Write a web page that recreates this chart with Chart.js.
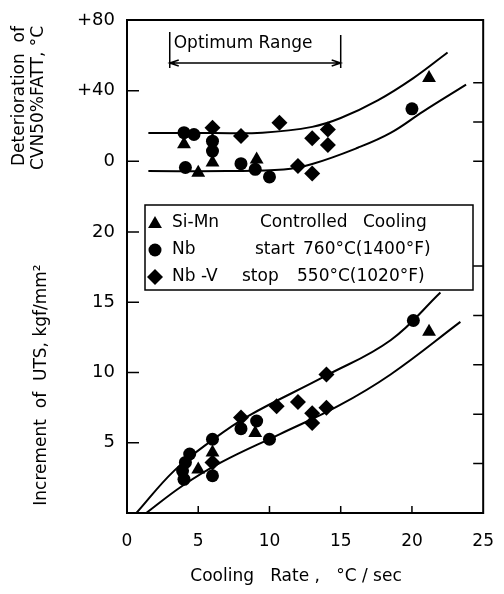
<!DOCTYPE html>
<html>
<head>
<meta charset="utf-8">
<script src="https://cdn.jsdelivr.net/npm/chart.js@4.4.1/dist/chart.umd.min.js"></script>
<style>
html, body { margin: 0; padding: 0; background: #fff; }
</style>
</head>
<body>
<canvas id="chart" width="504" height="594"></canvas>
<script>
// cooling rate, degC/sec
const rateTicks = [0, 5, 10, 15, 20, 25];
const optimumRange = [3, 15];

// deterioration of CVN 50% FATT, degC   [rate, value]
const fattTicks = [0, 40, 80];
const fattSiMn = [[4, 9.6], [5, -6.4], [6, -0.7], [9.1, 1.1], [21.2, 47.2]];
const fattNb = [[4, 16.2], [4.7, 15.2], [4.1, -3.5], [6, 11.4], [6, 5.8], [8, -1.3], [9, -4.5], [10, -8.8], [20, 29.7]];
const fattNbV = [[6, 19], [8, 14.3], [10.7, 21.8], [13, 13], [14.1, 18], [14.1, 9.2], [12, -2.6], [13, -6.9]];
const fattUpper = [[1.5, 16], [6, 16], [9.5, 16.2], [13, 19.5], [15, 24.5], [17.6, 34.5], [20.1, 47.1], [22.5, 61.6]];
const fattLower = [[1.5, -5.5], [7, -5.5], [11, -4.6], [13, -1.5], [16.2, 7.7], [18.5, 16.1], [20.8, 28.3], [23.8, 43.4]];

// increment of UTS, kgf/mm2
const utsTicks = [5, 10, 15, 20];
const utsSiMn = [[5, 3.1], [6, 4.3], [9, 5.7], [21.2, 12.9]];
const utsNb = [[6, 5.25], [6, 2.65], [4.4, 4.2], [4.1, 3.6], [3.9, 3.0], [4, 2.4], [8, 6], [9.1, 6.55], [10, 5.25], [20.1, 13.7]];
const utsNbV = [[6, 3.6], [8, 6.8], [10.5, 7.6], [12, 7.9], [13, 7.1], [13, 6.4], [14, 7.5], [14, 9.85]];
const utsUpper = [[0.66, 0], [3.3, 3.0], [6, 5.2], [8.5, 6.9], [13.9, 9.74], [18.5, 12.3], [22, 15.7]];
const utsLower = [[1.35, 0], [3.9, 1.94], [6.6, 3.6], [10.7, 5.6], [14.8, 7.6], [18.5, 9.86], [23.4, 13.6]];

// right hand ticks (degF and ksi, no labels)
const fattTicksF = [0, 40, 80];
const utsTicksKsi = [5, 10, 15, 20, 25];

const steels = ['Si-Mn', 'Nb', 'Nb -V'];
const styles = ['triangle', 'circle', 'rectRot'];
const note = [['Controlled', 'Cooling'], ['start', '760°C(1400°F)'], ['stop', '550°C(1020°F)']];

const FONT = '"DejaVu Sans", sans-serif';
const pts = a => a.map(p => ({x: p[0], y: p[1]}));
const radius = s => s === 'circle' ? 6.5 : 8;

function marks(data, i, axis) {
    return {
        label: steels[i], data: pts(data), yAxisID: axis,
        pointStyle: styles[i], pointRadius: radius(styles[i]),
        backgroundColor: '#000', borderColor: '#000', borderWidth: 0, order: 1
    };
}
function curve(data, axis) {
    return {
        type: 'line', data: pts(data), yAxisID: axis, showLine: true,
        borderColor: '#000', borderWidth: 2, pointRadius: 0,
        tension: 0.4, fill: false, order: 2
    };
}

function shape(ctx, style, x, y, r) {
    ctx.beginPath();
    if (style === 'circle') ctx.arc(x, y, r, 0, Math.PI * 2);
    else if (style === 'triangle') {
        ctx.moveTo(x, y - r); ctx.lineTo(x + r * 0.866, y + r * 0.5); ctx.lineTo(x - r * 0.866, y + r * 0.5); ctx.closePath();
    } else {
        ctx.moveTo(x, y - r); ctx.lineTo(x + r, y); ctx.lineTo(x, y + r); ctx.lineTo(x - r, y); ctx.closePath();
    }
    ctx.fill();
}

function vtext(ctx, txt, x, y) {
    ctx.save();
    ctx.translate(x, y);
    ctx.rotate(-Math.PI / 2);
    ctx.fillText(txt, 0, 0);
    ctx.restore();
}

const decorations = {
    id: 'decorations',
    afterDraw(chart) {
        const {ctx, chartArea: a, scales} = chart;
        ctx.save();
        ctx.strokeStyle = '#000';
        ctx.fillStyle = '#000';

        // frame
        ctx.lineWidth = 2;
        ctx.strokeRect(a.left, a.top, a.right - a.left, a.bottom - a.top);

        // inward tick marks
        ctx.lineWidth = 1.5;
        ctx.beginPath();
        scales.x.ticks.forEach(t => {
            if (t.value <= scales.x.min || t.value >= scales.x.max) return;
            const px = scales.x.getPixelForValue(t.value);
            ctx.moveTo(px, a.bottom); ctx.lineTo(px, a.bottom - 7);
        });
        ['yF', 'yU'].forEach(id => scales[id].ticks.forEach(t => {
            const py = scales[id].getPixelForValue(t.value);
            ctx.moveTo(a.left, py); ctx.lineTo(a.left + 12, py);
        }));
        ['yFR', 'yUR'].forEach(id => scales[id].ticks.forEach(t => {
            const py = scales[id].getPixelForValue(t.value);
            ctx.moveTo(a.right, py); ctx.lineTo(a.right - 10, py);
        }));
        ctx.stroke();

        // optimum range
        const x1 = scales.x.getPixelForValue(optimumRange[0]);
        const x2 = scales.x.getPixelForValue(optimumRange[1]);
        const ya = a.top + 43;
        ctx.lineWidth = 1.5;
        ctx.beginPath();
        ctx.moveTo(x1, a.top + 12); ctx.lineTo(x1, a.top + 48);
        ctx.moveTo(x2, a.top + 15); ctx.lineTo(x2, a.top + 48);
        ctx.moveTo(x1, ya); ctx.lineTo(x2, ya);
        ctx.moveTo(x1 + 9, ya - 3); ctx.lineTo(x1, ya); ctx.lineTo(x1 + 9, ya + 3);
        ctx.moveTo(x2 - 9, ya - 3); ctx.lineTo(x2, ya); ctx.lineTo(x2 - 9, ya + 3);
        ctx.stroke();
        ctx.font = '17px ' + FONT;
        ctx.textAlign = 'left';
        ctx.textBaseline = 'alphabetic';
        ctx.fillText('Optimum Range', x1 + 4, a.top + 28);

        // legend box
        const bx = a.left + 18, by = 205, bw = 328, bh = 85;
        ctx.fillStyle = '#fff';
        ctx.fillRect(bx, by, bw, bh);
        ctx.fillStyle = '#000';
        ctx.lineWidth = 1.5;
        ctx.strokeRect(bx, by, bw, bh);
        ctx.textBaseline = 'middle';
        const noteX = [[260, 363], [255, 303], [242, 297]];
        steels.forEach((name, i) => {
            const ry = by + 18 + i * 27;
            shape(ctx, styles[i], bx + 10, ry + (styles[i] === 'triangle' ? 1 : 0), radius(styles[i]));
            ctx.fillText(name, bx + 27, ry);
            ctx.fillText(note[i][0], noteX[i][0], ry);
            ctx.fillText(note[i][1], noteX[i][1], ry);
        });

        // axis titles
        ctx.textAlign = 'center';
        ctx.font = '17px ' + FONT;
        vtext(ctx, 'Deterioration  of', 20, 96);
        vtext(ctx, 'CVN50%FATT, °C', 39, 98);
        vtext(ctx, 'Increment  of  UTS, kgf/mm²', 42, 385);
        ctx.fillText('Cooling   Rate ,   °C / sec', 296, 577);
        ctx.restore();
    }
};

const tickFont = {family: FONT, size: 18};
const fixedTicks = list => (s => { s.ticks = list.map(v => ({value: v})); });

new Chart(document.getElementById('chart').getContext('2d'), {
    type: 'scatter',
    data: {
        datasets: [
            marks(fattSiMn, 0, 'yF'), marks(fattNb, 1, 'yF'), marks(fattNbV, 2, 'yF'),
            curve(fattUpper, 'yF'), curve(fattLower, 'yF'),
            marks(utsSiMn, 0, 'yU'), marks(utsNb, 1, 'yU'), marks(utsNbV, 2, 'yU'),
            curve(utsUpper, 'yU'), curve(utsLower, 'yU')
        ]
    },
    options: {
        responsive: false,
        animation: false,
        devicePixelRatio: 1,
        layout: {padding: {top: 20, left: 0, right: 0, bottom: 0}},
        plugins: {legend: {display: false}, tooltip: {enabled: false}},
        scales: {
            x: {
                type: 'linear', min: 0, max: 25,
                afterBuildTicks: fixedTicks(rateTicks),
                afterFit: s => { s.height = 81; },
                grid: {display: false}, border: {display: false},
                ticks: {color: '#000', font: {family: FONT, size: 17}, padding: 10, maxRotation: 0, autoSkip: false}
            },
            yF: {
                type: 'linear', position: 'left', stack: 'left', stackWeight: 212, weight: 2,
                min: -40, max: 80,
                afterBuildTicks: fixedTicks(fattTicks),
                afterFit: s => { s.width = 127; },
                grid: {display: false}, border: {display: false},
                ticks: {color: '#000', font: tickFont, padding: 4, autoSkip: false,
                    callback: v => v > 0 ? '+' + v : String(v)}
            },
            yU: {
                type: 'linear', position: 'left', stack: 'left', stackWeight: 281, weight: 1,
                min: 0, max: 20,
                afterBuildTicks: fixedTicks(utsTicks),
                afterFit: s => { s.width = 127; },
                grid: {display: false}, border: {display: false},
                ticks: {color: '#000', font: tickFont, padding: 4, autoSkip: false}
            },
            yFR: {
                type: 'linear', position: 'right', stack: 'right', stackWeight: 212, weight: 1,
                min: -40 * 1.8, max: 80 * 1.8,
                afterBuildTicks: fixedTicks(fattTicksF),
                afterFit: s => { s.width = 11; },
                grid: {display: false}, border: {display: false},
                ticks: {display: false}
            },
            yUR: {
                type: 'linear', position: 'right', stack: 'right', stackWeight: 281, weight: 2,
                min: 0, max: 20 * 1.4223,
                afterBuildTicks: fixedTicks(utsTicksKsi),
                afterFit: s => { s.width = 11; },
                grid: {display: false}, border: {display: false},
                ticks: {display: false}
            }
        }
    },
    plugins: [decorations]
});
</script>
</body>
</html>
